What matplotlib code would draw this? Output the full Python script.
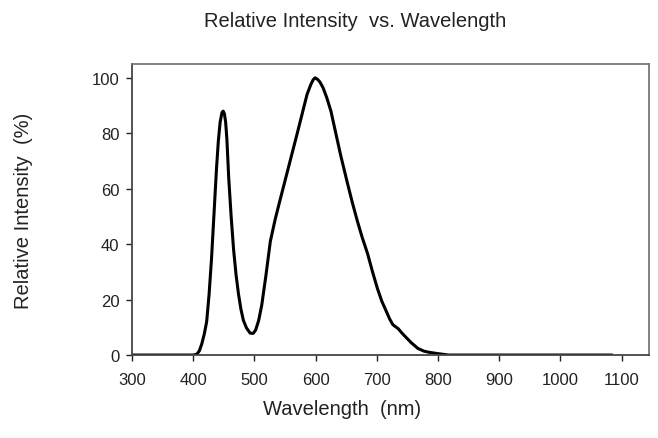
import matplotlib.pyplot as plt

plt.rcParams['font.family'] = ['Liberation Sans Narrow', 'Liberation Sans', 'DejaVu Sans']

wavelength = [300, 350, 400, 406, 410, 414, 418, 422, 426, 430, 434, 438, 441, 444, 447, 449, 451,
              453, 455, 458, 462, 466, 470, 474, 478, 482, 487, 493, 498, 502, 507, 512, 519, 526,
              534, 542, 549, 556, 563, 570, 578, 586, 592, 596, 599, 603, 607, 612, 618, 625, 633,
              641, 652, 660, 668, 676, 685, 693, 701, 708, 715, 721, 726, 730, 735, 740, 745, 756,
              767, 777, 785, 800, 817, 900, 1000, 1083]
intensity = [0, 0, 0, 0.3, 1.5, 4, 7.5, 12, 22, 35, 51, 67, 77, 84, 87.5, 88, 87,
             84, 78, 64, 50, 38, 29, 22, 16.5, 12.5, 9.8, 7.9, 7.8, 9, 12.5, 18, 29, 41,
             49, 56, 62, 68, 74, 80, 87, 94, 97.5, 99.3, 100, 99.5, 98.5, 96.5, 93, 88, 80,
             72, 62, 55, 48.5, 42.5, 36.5, 30, 24, 19.5, 16, 13, 11, 10.3, 9.5, 8.2, 7, 4.5,
             2.4, 1.4, 1, 0.5, 0, 0, 0, 0]

x_ticks = [300, 400, 500, 600, 700, 800, 900, 1000, 1100]
y_ticks = [0, 20, 40, 60, 80, 100]

fig = plt.figure(figsize=(6.58, 4.39), dpi=100)
ax = fig.add_axes([0.2006, 0.189, 0.786, 0.663])

ax.plot(wavelength, intensity, color='black', linewidth=2.2)

ax.set_xlim(300, 1145)
ax.set_ylim(0, 105)
ax.set_xticks(x_ticks)
ax.set_yticks(y_ticks)
ax.tick_params(direction='out', length=4, width=1, labelsize=12, colors='#222222')
ax.tick_params(axis='x', pad=8)
ax.tick_params(axis='y', pad=5)

for s in ['left', 'bottom']:
    ax.spines[s].set_color('#444444')
    ax.spines[s].set_linewidth(1.3)
for s in ['top', 'right']:
    ax.spines[s].set_color('#777777')
    ax.spines[s].set_linewidth(1.3)

fig.text(0.54, 0.95, 'Relative Intensity  vs. Wavelength', ha='center', va='center', fontsize=14.5, color='#222222')
fig.text(0.52, 0.068, 'Wavelength  (nm)', ha='center', va='center', fontsize=14.5, color='#222222')
fig.text(0.036, 0.52, 'Relative Intensity  (%)', ha='center', va='center', rotation=90, fontsize=14.5, color='#222222')

plt.savefig('out.png', dpi=100)
